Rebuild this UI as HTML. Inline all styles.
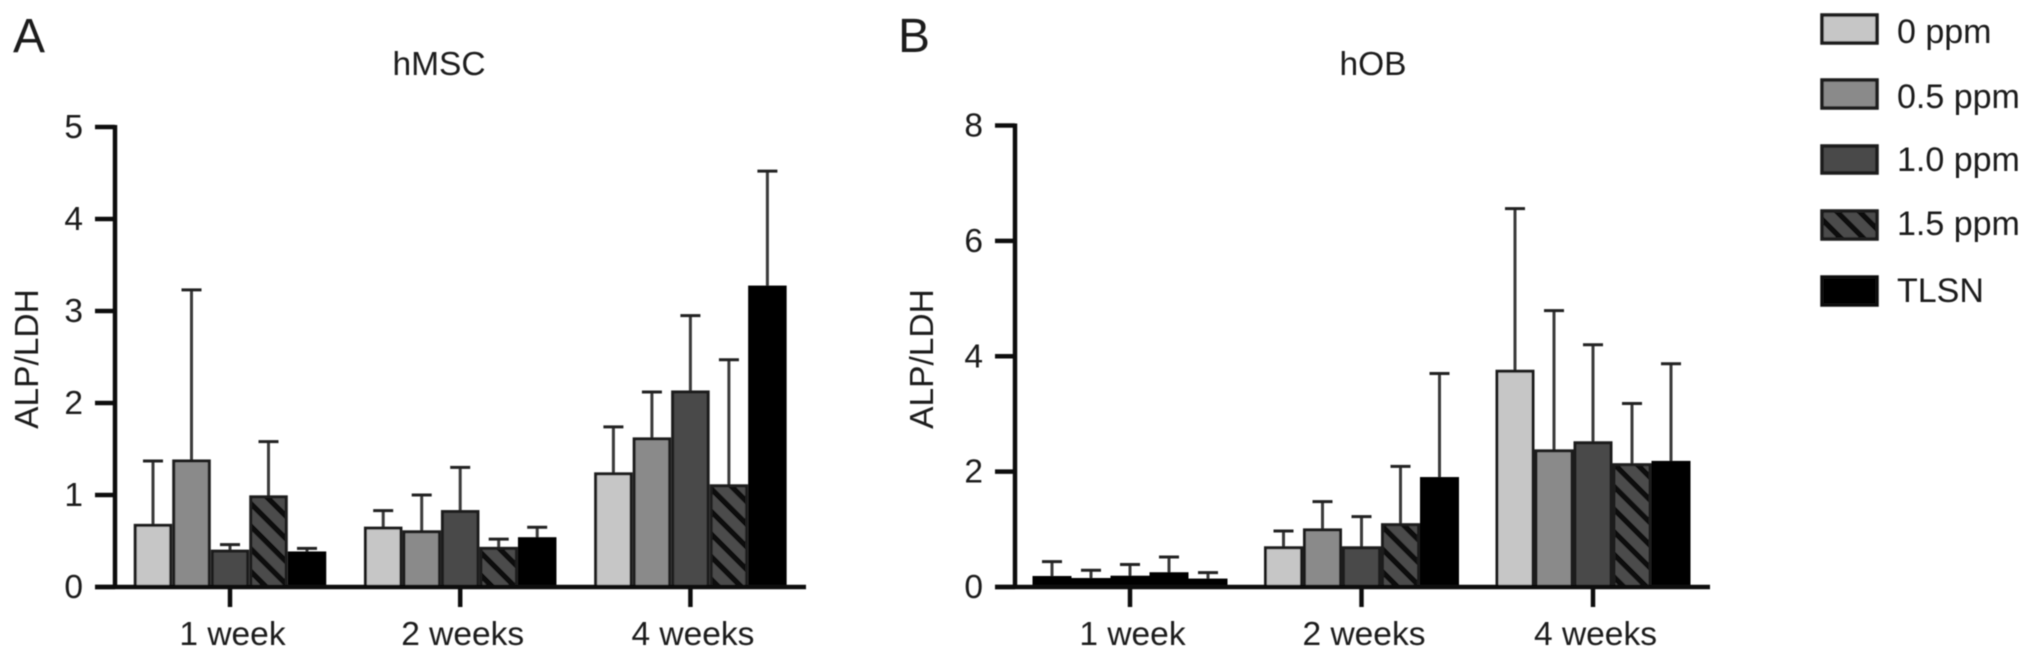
<!DOCTYPE html>
<html lang="en">
<head>
<meta charset="utf-8">
<title>ALP/LDH in hMSC and hOB</title>
<style>
html,body{margin:0;padding:0;background:#fff;width:2032px;height:659px;overflow:hidden}
svg{display:block}
text{font-family:"Liberation Sans",sans-serif;fill:#1a1a1a;font-size:33.5px}
</style>
</head>
<body>
<svg id="figure" width="2032" height="659" viewBox="0 0 2032 659" xmlns="http://www.w3.org/2000/svg">
  <defs>
    <pattern id="hatch" width="16" height="16" patternUnits="userSpaceOnUse" patternTransform="rotate(45)">
      <rect width="16" height="16" fill="#4c4c4c"></rect>
      <rect width="16" height="5.5" fill="#0a0a0a"></rect>
    </pattern>
    <filter id="soft" x="-5%" y="-5%" width="110%" height="110%">
      <feGaussianBlur stdDeviation="0.6"></feGaussianBlur>
    </filter>
  </defs>
  <g id="root" filter="url(#soft)">
    <text x="13" y="52" style="font-size:48px">A</text>
    <text x="898" y="52" style="font-size:48px">B</text>
    <text x="439" y="75" text-anchor="middle">hMSC</text>
    <text x="1373" y="75" text-anchor="middle">hOB</text>
    <text transform="translate(38,359) rotate(-90)" text-anchor="middle">ALP/LDH</text>
    <text transform="translate(933,359) rotate(-90)" text-anchor="middle">ALP/LDH</text>
    <g id="chart-a"></g>
    <g id="chart-b"></g>
    <g id="legend">
      <g>
        <rect x="1822" y="15" width="55" height="28" fill="#c6c6c6" stroke="#1c1c1c" stroke-width="3.5"></rect>
        <text x="1897" y="43" style="font-size:34px">0 ppm</text>
      </g>
      <g>
        <rect x="1822" y="80" width="55" height="28" fill="#8a8a8a" stroke="#1c1c1c" stroke-width="3.5"></rect>
        <text x="1897" y="108" style="font-size:34px">0.5 ppm</text>
      </g>
      <g>
        <rect x="1822" y="146" width="55" height="27" fill="#4a4a4a" stroke="#1c1c1c" stroke-width="3.5"></rect>
        <text x="1897" y="171" style="font-size:34px">1.0 ppm</text>
      </g>
      <g>
        <rect x="1822" y="211" width="55" height="28" fill="url(#hatch)" stroke="#1c1c1c" stroke-width="3.5"></rect>
        <text x="1897" y="235" style="font-size:34px">1.5 ppm</text>
      </g>
      <g>
        <rect x="1822" y="277" width="55" height="28" fill="#000" stroke="#111" stroke-width="3.5"></rect>
        <text x="1897" y="302" style="font-size:34px">TLSN</text>
      </g>
    </g>
  </g>
</svg>
<script>
// Categories and tick labels
const categories = ["1 week", "2 weeks", "4 weeks"];
const seriesNames = ["0 ppm", "0.5 ppm", "1.0 ppm", "1.5 ppm", "TLSN"];
const hmscTicks = [0, 1, 2, 3, 4, 5];
const hobTicks = [0, 2, 4, 6, 8];

// hMSC means per series across categories
const hmscMean0 = [0.67, 0.64, 1.23];
const hmscMean05 = [1.37, 0.60, 1.61];
const hmscMean10 = [0.39, 0.82, 2.12];
const hmscMean15 = [0.98, 0.42, 1.10];
const hmscMeanTlsn = [0.37, 0.525, 3.26];
// hMSC error-bar top values
const hmscTop0 = [1.37, 0.83, 1.74];
const hmscTop05 = [3.23, 1.00, 2.12];
const hmscTop10 = [0.46, 1.30, 2.95];
const hmscTop15 = [1.58, 0.52, 2.47];
const hmscTopTlsn = [0.42, 0.65, 4.52];

// hOB means per series across categories
const hobMean0 = [0.165, 0.68, 3.74];
const hobMean05 = [0.13, 0.99, 2.36];
const hobMean10 = [0.17, 0.68, 2.50];
const hobMean15 = [0.23, 1.08, 2.12];
const hobMeanTlsn = [0.12, 1.88, 2.16];
// hOB error-bar top values
const hobTop0 = [0.44, 0.97, 6.56];
const hobTop05 = [0.29, 1.48, 4.79];
const hobTop10 = [0.39, 1.22, 4.20];
const hobTop15 = [0.52, 2.09, 3.18];
const hobTopTlsn = [0.25, 3.70, 3.87];

const SVGNS = "http://www.w3.org/2000/svg";
const seriesFills = ["#c6c6c6", "#8a8a8a", "#4a4a4a", "url(#hatch)", "#000"];
const seriesSlugs = ["0-ppm", "0-5-ppm", "1-0-ppm", "1-5-ppm", "tlsn"];

function make(parent, tag, attrs) {
  const node = document.createElementNS(SVGNS, tag);
  for (const k in attrs) node.setAttribute(k, attrs[k]);
  parent.appendChild(node);
  return node;
}

function drawPanel(cfg) {
  const root = document.getElementById(cfg.id);
  const yMax = cfg.ticks[cfg.ticks.length - 1];
  const yScale = function (v) { return cfg.y0 - (v / yMax) * (cfg.y0 - cfg.yTop); };
  const barWidth = cfg.barWidth;
  const groupCenter = function (g) { return cfg.xFirst + g * cfg.groupStep; };
  const barLeft = function (g, s) { return groupCenter(g) + (s - seriesNames.length / 2) * barWidth; };

  // Error bars
  categories.forEach(function (cat, g) {
    seriesNames.forEach(function (name, s) {
      const cx = barLeft(g, s) + barWidth / 2;
      const top = yScale(cfg.tops[s][g]);
      const base = yScale(cfg.means[s][g]);
      const stem = make(root, "line", {x1: cx, x2: cx, y1: base, y2: top, stroke: "#3a3a3a", "stroke-width": 3});
      
      
      const cap = make(root, "line", {x1: cx - 10, x2: cx + 10, y1: top, y2: top, stroke: "#222", "stroke-width": 3});
      
      
    });
  });

  // Bars: very short bars merge into solid black because the outline fills them
  categories.forEach(function (cat, g) {
    seriesNames.forEach(function (name, s) {
      const top = yScale(cfg.means[s][g]);
      const barHeight = Math.max(0, cfg.y0 - top);
      const bar = make(root, "rect", {
        x: barLeft(g, s) + 1.5, y: top, width: barWidth - 3, height: barHeight,
        fill: barHeight < 16 ? "#000" : seriesFills[s],
        stroke: s === 4 || barHeight < 16 ? "#000" : "#1a1a1a", "stroke-width": 3
      });
      
      
    });
  });

  // Y axis
  const yAxis = make(root, "line", {x1: cfg.xAxis, x2: cfg.xAxis, y1: cfg.yTop - 2, y2: cfg.y0 + 2, stroke: "#111", "stroke-width": 4.5});
  
  
  cfg.ticks.forEach(function (t) {
    const y = yScale(t);
    const mark = make(root, "line", {x1: cfg.xAxis - 20, x2: cfg.xAxis, y1: y, y2: y, stroke: "#111", "stroke-width": 4.5});
    
    
    const label = make(root, "text", {x: cfg.xAxis - 32, y: y + 11, "text-anchor": "end"});
    
    
    label.textContent = String(t);
  });

  // X axis
  const xAxis = make(root, "line", {x1: cfg.xAxis - 20, x2: cfg.xEnd, y1: cfg.y0, y2: cfg.y0, stroke: "#111", "stroke-width": 4.5});
  
  
  categories.forEach(function (cat, g) {
    const x = groupCenter(g);
    const mark = make(root, "line", {x1: x, x2: x, y1: cfg.y0, y2: cfg.y0 + 20, stroke: "#111", "stroke-width": 4.5});
    
    
    const label = make(root, "text", {x: x + 2.5, y: 645, "text-anchor": "middle"});
    
    
    label.textContent = cat;
  });
}

drawPanel({
  id: "chart-a", slug: "hmsc", ticks: hmscTicks,
  means: [hmscMean0, hmscMean05, hmscMean10, hmscMean15, hmscMeanTlsn],
  tops: [hmscTop0, hmscTop05, hmscTop10, hmscTop15, hmscTopTlsn],
  xAxis: 115, xEnd: 806, xFirst: 230, groupStep: 230.2, barWidth: 38.5, y0: 587, yTop: 127
});
drawPanel({
  id: "chart-b", slug: "hob", ticks: hobTicks,
  means: [hobMean0, hobMean05, hobMean10, hobMean15, hobMeanTlsn],
  tops: [hobTop0, hobTop05, hobTop10, hobTop15, hobTopTlsn],
  xAxis: 1015, xEnd: 1710, xFirst: 1130, groupStep: 231.5, barWidth: 39, y0: 587, yTop: 125.5
});
</script>
</body>
</html>
